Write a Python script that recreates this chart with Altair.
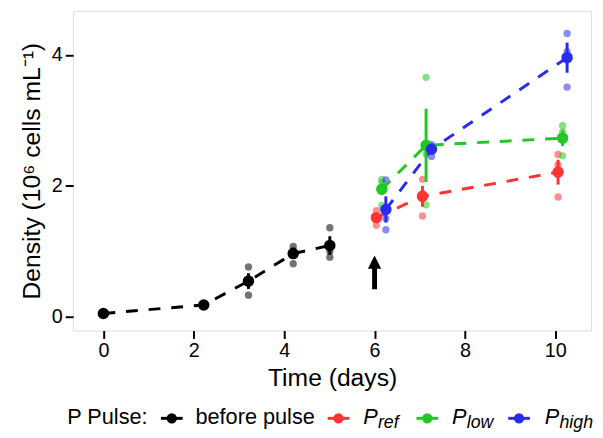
import altair as alt
import pandas as pd

FONT = "Liberation Sans"

groups = ["before pulse", "P_ref", "P_low", "P_high"]
colors = ["#000000", "#ff3333", "#22c822", "#2b2bee"]

# ---- data ----
bp_day = [0.0, 2.22, 3.21, 4.20, 5.01]
bp_mean = [0.05, 0.18, 0.545, 0.965, 1.09]
bp_se = [0.01, 0.01, 0.12, 0.08, 0.14]
bp_reps = [[0.04, 0.05, 0.06], [0.17, 0.18, 0.19], [0.76, 0.55, 0.33],
           [1.075, 1.01, 0.81], [1.36, 1.00, 0.91]]

ref_day = [6.04, 7.06, 10.06]
ref_mean = [1.515, 1.84, 2.21]
ref_se = [0.06, 0.16, 0.19]
ref_reps = [[1.62, 1.53, 1.40], [2.10, 1.88, 1.54], [2.48, 2.32, 1.83]]

low_day = [6.16, 7.14, 10.16]
low_mean = [1.95, 2.62, 2.73]
low_se = [0.09, 0.56, 0.12]
low_reps = [[2.10, 2.05, 1.70], [3.66, 2.49, 1.71], [2.92, 2.82, 2.46]]

high_day = [6.25, 7.26, 10.26]
high_mean = [1.64, 2.56, 3.96]
high_se = [0.20, 0.07, 0.23]
high_reps = [[2.09, 1.50, 1.33], [2.63, 2.60, 2.45], [4.33, 4.05, 3.51]]

arrow_x = 6.0
arrow_shaft = [0.42, 0.76]
arrow_head = 0.835

x_ticks = [0, 2, 4, 6, 8, 10]
y_ticks = [0, 2, 4]

legend_title = "P Pulse:"
legend_main = ["before pulse", "P", "P", "P"]
legend_sub = ["", "ref", "low", "high"]

# ---- tables ----
series = [
    ("before pulse", bp_day, bp_mean, bp_se, bp_reps),
    ("P_ref", ref_day, ref_mean, ref_se, ref_reps),
    ("P_low", low_day, low_mean, low_se, low_reps),
    ("P_high", high_day, high_mean, high_se, high_reps),
]
mean_rows, rep_rows = [], []
for g, days, means, ses, reps in series:
    for d, m, s, r in zip(days, means, ses, reps):
        mean_rows.append({"group": g, "day": d, "mean": m, "lo": m - s, "hi": m + s})
        for v in r:
            rep_rows.append({"group": g, "day": d, "val": v})
means_df = pd.DataFrame(mean_rows)
reps_df = pd.DataFrame(rep_rows)
arrow_df = pd.DataFrame({"x": [arrow_x], "y0": [arrow_shaft[0]], "y1": [arrow_shaft[1]], "yh": [arrow_head]})

xscale = alt.Scale(domain=[-0.67, 10.79], nice=False, zero=False)
yscale = alt.Scale(domain=[-0.211, 4.675], nice=False, zero=False)
cscale = alt.Scale(domain=groups, range=colors)

xaxis = alt.Axis(values=x_ticks, format="d", title="Time (days)", grid=False, domain=False,
                 tickSize=8, tickWidth=2, tickColor="black", labelFontSize=20,
                 labelColor="black", labelFont=FONT, labelPadding=2,
                 titleFont=FONT, titleFontSize=25, titleFontWeight="normal",
                 titleColor="black", titleBaseline="alphabetic", titleY=56, titleX=262.5)
yaxis = alt.Axis(values=y_ticks, format="d", title="Density (10⁶ cells mL⁻¹)", grid=False,
                 domain=False, tickSize=8, tickWidth=2, tickColor="black", labelFontSize=20,
                 labelColor="black", labelFont=FONT, labelPadding=3,
                 titleFont=FONT, titleFontSize=25, titleFontWeight="normal",
                 titleColor="black", titleBaseline="alphabetic", titleX=-34, titleY=162)

color = alt.Color("group:N", scale=cscale, legend=None)

reps = alt.Chart(reps_df).mark_circle(size=55, opacity=0.55).encode(
    x=alt.X("day:Q", scale=xscale, axis=xaxis),
    y=alt.Y("val:Q", scale=yscale, axis=yaxis),
    color=color,
)
lines = alt.Chart(means_df).mark_line(strokeWidth=3, strokeDash=[12, 11]).encode(
    x=alt.X("day:Q", scale=xscale),
    y=alt.Y("mean:Q", scale=yscale),
    color=color, detail="group:N", order="day:Q",
)
errs = alt.Chart(means_df).mark_rule(strokeWidth=3).encode(
    x=alt.X("day:Q", scale=xscale),
    y=alt.Y("lo:Q", scale=yscale), y2="hi:Q",
    color=color,
)
pts = alt.Chart(means_df).mark_circle(size=135, opacity=1).encode(
    x=alt.X("day:Q", scale=xscale),
    y=alt.Y("mean:Q", scale=yscale),
    color=color,
)
shaft = alt.Chart(arrow_df).mark_rule(strokeWidth=5, color="black").encode(
    x=alt.X("x:Q", scale=xscale), y=alt.Y("y0:Q", scale=yscale), y2="y1:Q")
head = alt.Chart(arrow_df).mark_point(shape="M-1,1L0,-1L1,1Z", size=180, filled=True,
                                      color="black", opacity=1).encode(
    x=alt.X("x:Q", scale=xscale), y=alt.Y("yh:Q", scale=yscale))

# ---- bottom legend (drawn in pixel space below the plot) ----
one = alt.Data(values=[{}])
TY = 419   # text baseline
KY = 413   # key centre
def text(t, x, y, size, style="normal"):
    return alt.Chart(one).mark_text(text=t, align="left", baseline="alphabetic", font=FONT,
                                    fontSize=size, fontStyle=style, color="black").encode(
        x=alt.value(x), y=alt.value(y))
def key(c, x0, x1):
    r = alt.Chart(one).mark_rule(strokeWidth=3, color=c).encode(
        x=alt.value(x0), x2=alt.value(x1), y=alt.value(KY))
    d = alt.Chart(one).mark_circle(size=110, color=c, opacity=1).encode(
        x=alt.value((x0 + x1) / 2), y=alt.value(KY))
    return [r, d]

key_x = [(89, 111), (258, 280), (348, 370), (441, 463)]
main_x = [124, 294, 384, 478]
sub_x = [None, 309, 399, 493]
leg = [text(legend_title, -6, TY, 22)]
for i, c in enumerate(colors):
    leg += key(c, *key_x[i])
    if legend_sub[i]:
        leg.append(text(legend_main[i], main_x[i], TY, 22, "italic"))
        leg.append(text(legend_sub[i], sub_x[i], TY + 4, 18, "italic"))
    else:
        leg.append(text(legend_main[i], main_x[i], TY, 22))

chart = alt.layer(reps, lines, errs, pts, shaft, head, *leg).properties(
    width=525, height=324,
    autosize=alt.AutoSizeParams(type="none"),
    padding={"left": 66, "top": 0, "right": 4, "bottom": 106},
).configure_view(stroke="black", strokeWidth=2).configure(background="white")

chart.save("out.html", embed_options={"renderer": "svg", "actions": False})
